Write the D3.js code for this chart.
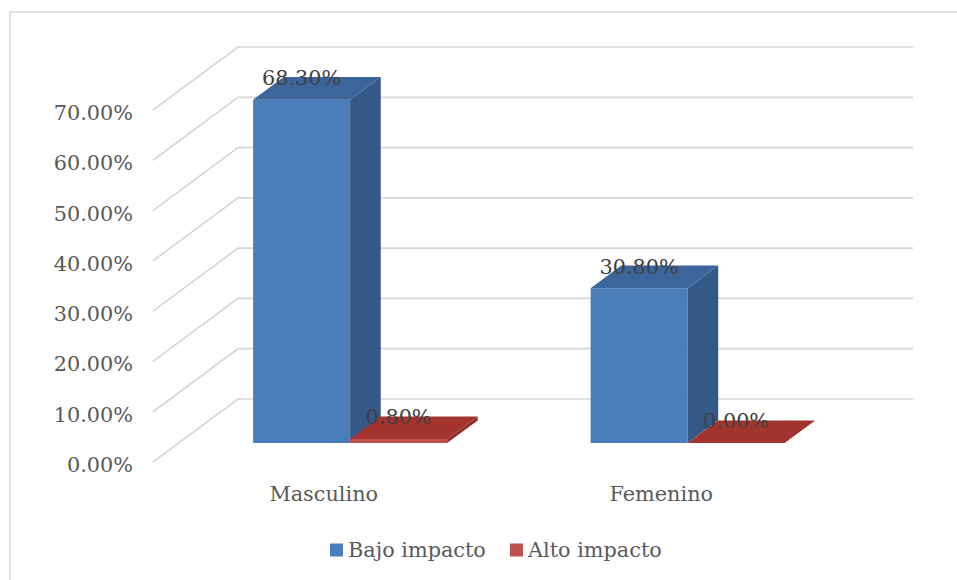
<!DOCTYPE html>
<html>
<head>
<meta charset="utf-8">
<script src="https://cdn.jsdelivr.net/npm/d3@7/dist/d3.min.js"></script>
<style>
  html, body { margin: 0; padding: 0; background: #fff; }
  svg { display: block; }
</style>
</head>
<body>
<svg id="chart" width="957" height="580"></svg>
<script>
// Chart data
const categories = ["Masculino", "Femenino"];
const seriesNames = ["Bajo impacto", "Alto impacto"];
const bajoImpacto = [68.3, 30.8];
const altoImpacto = [0.8, 0.0];
const tickValues = [0, 10, 20, 30, 40, 50, 60, 70];
const tickLabels = ["0.00%", "10.00%", "20.00%", "30.00%", "40.00%", "50.00%", "60.00%", "70.00%"];

const seriesValues = [bajoImpacto, altoImpacto];
const colors = {
  "Bajo impacto": { front: "#4a7ebb", top: "#3b659b", side: "#345887" },
  "Alto impacto": { front: "#c0504d", top: "#a3332f", side: "#8f2f2c" }
};

const svg = d3.select("#chart");
const FONT = "'DejaVu Serif', serif";
const FS = 20.8;

// Oblique 3D projection: depth d in [0,1] shifts a point right and up
const DX = 85, DY = 63;
const y = d3.scaleLinear().domain([0, 70]).range([462, 110]);
const x0 = d3.scaleBand().domain(categories).range([153, 828]).padding(0);
const x1 = d3.scaleBand().domain(seriesNames).range([0, x0.bandwidth()])
  .paddingInner(0).paddingOuter(0.74).align(0.52);
const P = (xf, v, d) => [xf + d * DX, y(v) - d * DY];
const D0 = 0.3, D1 = 0.66;

// Outer chart frame
svg.append("rect")
  .attr("x", 10).attr("y", 12).attr("width", 960).attr("height", 600)
  .attr("fill", "none").attr("stroke", "#d9d9d9").attr("stroke-width", 1.5);

// Side-wall and back-wall gridlines
const grid = svg.append("g");
tickValues.forEach(v => {
  const a = P(x0.range()[0], v, 0);
  const b = P(x0.range()[0], v, 1);
  const c = P(x0.range()[1], v, 1);
  grid.append("polyline")
    .attr("points", [a, b, c].map(p => p.join(",")).join(" "))
    .attr("fill", "none").attr("stroke", "#d6d6d6").attr("stroke-width", 1.7);
});

// Y axis labels
svg.append("g").selectAll("text")
  .data(tickValues)
  .join("text")
  .attr("x", 133)
  .attr("y", v => y(v) + 3)
  .attr("text-anchor", "end")
  .attr("dominant-baseline", "central")
  .attr("font-family", FONT).attr("font-size", FS)
  .attr("fill", "#595959")
  .text((v, i) => tickLabels[i]);

// Bars
const poly = pts => pts.map(p => p.join(",")).join(" ");
const bars = svg.append("g");
const labels = [];
categories.forEach((cat, ci) => {
  seriesNames.forEach((s, si) => {
    const v = seriesValues[si][ci];
    const xa = x0(cat) + x1(s);
    const xb = xa + x1.bandwidth();
    const col = colors[s];
    bars.append("polygon")
      .attr("points", poly([P(xa, 0, D0), P(xb, 0, D0), P(xb, v, D0), P(xa, v, D0)]))
      .attr("fill", col.front);
    bars.append("polygon")
      .attr("points", poly([P(xb, 0, D0), P(xb, 0, D1), P(xb, v, D1), P(xb, v, D0)]))
      .attr("fill", col.side);
    bars.append("polygon")
      .attr("points", poly([P(xa, v, D0), P(xb, v, D0), P(xb, v, D1), P(xa, v, D1)]))
      .attr("fill", col.top);
    labels.push({ x: (xa + xb) / 2 + D0 * DX, y: y(v) - D1 * DY, v });
  });
});

// Data labels
svg.append("g").selectAll("text")
  .data(labels)
  .join("text")
  .attr("x", d => d.x)
  .attr("y", d => d.y + 1)
  .attr("text-anchor", "middle")
  .attr("dominant-baseline", "central")
  .attr("font-family", FONT).attr("font-size", FS)
  .attr("fill", "#404040")
  .text(d => d.v.toFixed(2) + "%");

// Category labels
svg.append("g").selectAll("text")
  .data(categories)
  .join("text")
  .attr("x", c => x0(c) + x0.bandwidth() / 2 + 2)
  .attr("y", 494)
  .attr("text-anchor", "middle")
  .attr("dominant-baseline", "central")
  .attr("font-family", FONT).attr("font-size", FS)
  .attr("fill", "#595959")
  .text(c => c);

// Legend
const legend = svg.append("g");
const legendX = [330, 510];
seriesNames.forEach((s, i) => {
  const g = legend.append("g").attr("transform", `translate(${legendX[i]},550)`);
  g.append("rect").attr("x", 0).attr("y", -6.5).attr("width", 13).attr("height", 13)
    .attr("fill", colors[s].front);
  g.append("text").attr("x", 18).attr("y", 0)
    .attr("dominant-baseline", "central")
    .attr("font-family", FONT).attr("font-size", FS)
    .attr("fill", "#595959")
    .text(s);
});
</script>
</body>
</html>
